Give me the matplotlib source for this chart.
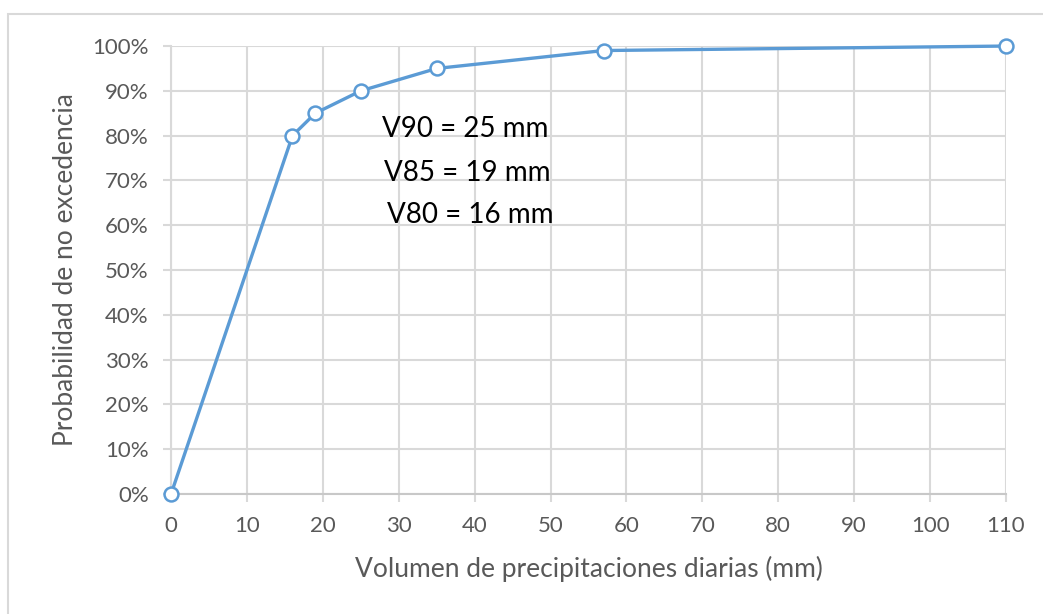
import matplotlib.pyplot as plt
import matplotlib.ticker as ticker
from matplotlib.patches import Rectangle

# --- Data
volumen_mm = [0, 16, 19, 25, 35, 57, 110]
probabilidad = [0.00, 0.80, 0.85, 0.90, 0.95, 0.99, 1.00]
x_ticks = [0, 10, 20, 30, 40, 50, 60, 70, 80, 90, 100, 110]
y_ticks = [0.0, 0.1, 0.2, 0.3, 0.4, 0.5, 0.6, 0.7, 0.8, 0.9, 1.0]
anotaciones = ["V90 = 25 mm", "V85 = 19 mm", "V80 = 16 mm"]

plt.rcParams['font.family'] = ['Lato', 'DejaVu Sans']

line_color = "#5b9bd5"
grid_color = "#d9d9d9"
text_gray = "#595959"

fig = plt.figure(figsize=(10.43, 6.14), dpi=100)
ax = fig.add_axes([0.164, 0.1954, 0.8005, 0.7296])

# outer chart border (only top/left visible in the original crop)
fig.patches.append(Rectangle((8 / 1043, -0.1), 1.2, (614 - 14) / 614 + 0.1,
                             transform=fig.transFigure, fill=False,
                             edgecolor="#d9d9d9", linewidth=1.5, zorder=0))

# --- Series
ax.plot(volumen_mm, probabilidad, color=line_color, linewidth=2.4,
        marker="o", markersize=10, markerfacecolor="white",
        markeredgecolor=line_color, markeredgewidth=1.8, clip_on=False, zorder=5)

# --- Axes
ax.set_xlim(0, 110)
ax.set_ylim(0, 1)
ax.set_xticks(x_ticks)
ax.set_yticks(y_ticks)
ax.yaxis.set_major_formatter(ticker.PercentFormatter(1.0, decimals=0))

ax.grid(True, color=grid_color, linewidth=1.5)
ax.set_axisbelow(True)
for side in ["top", "right"]:
    ax.spines[side].set_visible(False)
ax.spines["left"].set_color(grid_color)
ax.spines["bottom"].set_color("#c8c8c8")
ax.spines["left"].set_linewidth(1.5)
ax.spines["bottom"].set_linewidth(1.5)

ax.tick_params(axis='x', colors=grid_color, labelcolor=text_gray,
               labelsize=16, length=6, width=1.5, pad=10)
ax.tick_params(axis='y', colors=grid_color, labelcolor=text_gray,
               labelsize=16, length=6, width=1.5, pad=10)

ax.set_xlabel("Volumen de precipitaciones diarias (mm)", fontsize=19,
              color=text_gray, labelpad=14)
ax.set_ylabel("Probabilidad de no excedencia", fontsize=19,
              color=text_gray, labelpad=10)

# --- Annotations
text_pos = [(27.8, 0.815), (28.1, 0.717), (28.4, 0.622)]
for (tx, ty), txt in zip(text_pos, anotaciones):
    ax.text(tx, ty, txt, fontsize=20, color="black", va="center", ha="left")

fig.savefig("out.png", dpi=100)
